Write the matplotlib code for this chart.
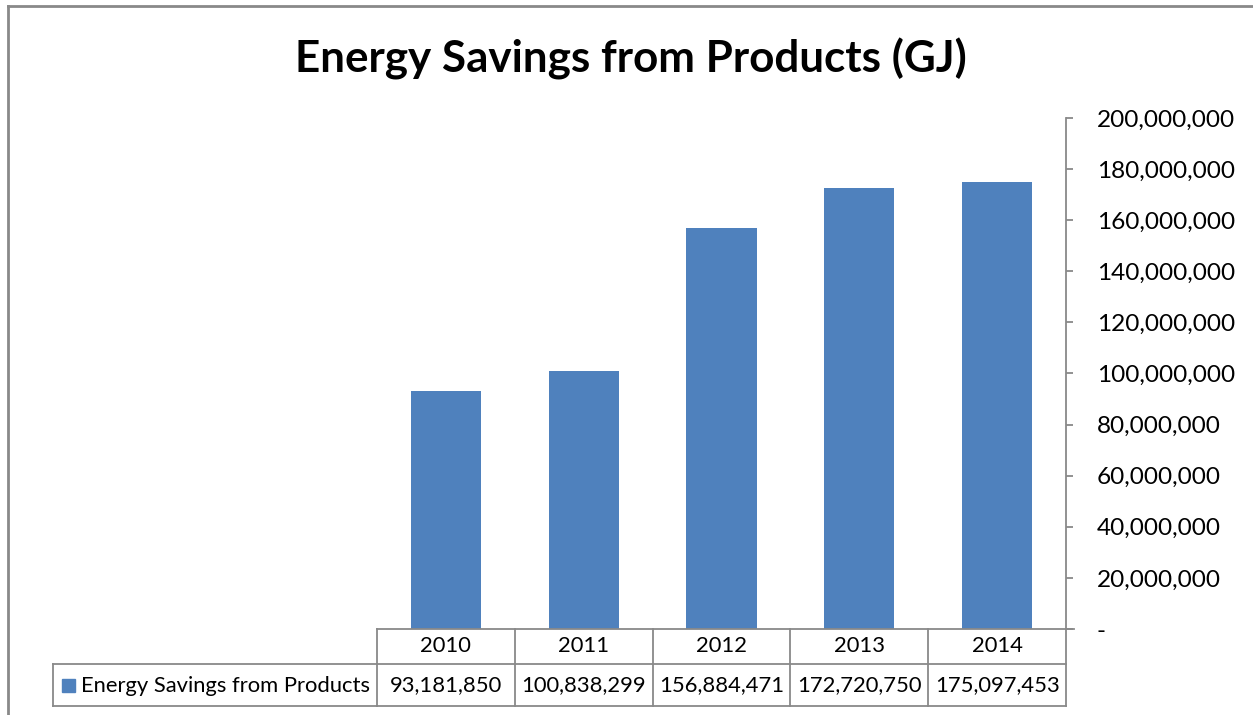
import numpy as np
import matplotlib.pyplot as plt
from matplotlib.ticker import FuncFormatter
from matplotlib.transforms import blended_transform_factory
from matplotlib.patches import Rectangle
from matplotlib.lines import Line2D

years = ['2010', '2011', '2012', '2013', '2014']
savings = [93181850, 100838299, 156884471, 172720750, 175097453]
series_name = 'Energy Savings from Products'
title = 'Energy Savings from Products (GJ)'

plt.rcParams['font.family'] = ['Lato', 'DejaVu Sans']
W, H = 1253, 715
fig = plt.figure(figsize=(W / 100, H / 100), dpi=100)

def fx(px):
	return px / W

def fy(py):
	return 1 - py / H

bar_col = '#4F81BD'
grey = '#898989'

# plot area
ax = fig.add_axes([fx(377), fy(629), fx(1066) - fx(377), fy(118) - fy(629)])
x = np.arange(len(years))
ax.bar(x, savings, width=0.51, color=bar_col)
ax.set_xlim(-0.5, len(years) - 0.5)
ax.set_ylim(0, 200000000)
ax.set_yticks(np.arange(0, 200000001, 20000000))
ax.yaxis.set_major_formatter(FuncFormatter(lambda v, p: '-' if v == 0 else f'{v:,.0f}'))
ax.yaxis.tick_right()
ax.tick_params(axis='y', direction='out', length=5, width=1.3, color=grey, labelsize=17.6, pad=17)
ax.set_xticks([])
for s in ['top', 'left', 'bottom']:
	ax.spines[s].set_visible(False)
ax.spines['right'].set_color(grey)
ax.spines['right'].set_linewidth(1.3)
for lbl in ax.get_yticklabels():
	lbl.set_horizontalalignment('left')

fig.text(fx(631), fy(59), title, ha='center', va='center', fontsize=31.7, fontweight='bold')

# data table under the bars
tr = blended_transform_factory(ax.transData, ax.transAxes)
ah = 629 - 118
r1 = -35 / ah
r2 = -77 / ah
lw = 1.3
for i, (yr, val) in enumerate(zip(years, savings)):
	ax.text(i, r1 / 2, yr, transform=tr, ha='center', va='center', fontsize=15.8, clip_on=False)
	ax.text(i, (r1 + r2) / 2, f'{val:,}', transform=tr, ha='center', va='center', fontsize=15.8, clip_on=False)
for xv in np.arange(-0.5, len(years), 1.0):
	ax.add_line(Line2D([xv, xv], [0, r2], transform=tr, color=grey, lw=lw, clip_on=False))
ax.add_line(Line2D([-0.5, len(years) - 0.5 + 0.06], [0, 0], transform=tr, color=grey, lw=lw, clip_on=False))
ax.add_line(Line2D([-0.5, len(years) - 0.5], [r1, r1], transform=tr, color=grey, lw=lw, clip_on=False))
ax.add_line(Line2D([-0.5, len(years) - 0.5], [r2, r2], transform=tr, color=grey, lw=lw, clip_on=False))

# row header cell with legend key
fig.add_artist(Line2D([fx(53), fx(377)], [fy(664), fy(664)], color=grey, lw=lw))
fig.add_artist(Line2D([fx(53), fx(377)], [fy(706), fy(706)], color=grey, lw=lw))
fig.add_artist(Line2D([fx(53), fx(53)], [fy(664), fy(706)], color=grey, lw=lw))
fig.add_artist(Rectangle((fx(62), fy(692)), fx(13), fy(679) - fy(692), color=bar_col))
fig.text(fx(81), fy(686), series_name, ha='left', va='center', fontsize=15.8)

# chart border
fig.add_artist(Line2D([fx(8), fx(8)], [fy(6), 0], color=grey, lw=2))
fig.add_artist(Line2D([fx(8), 1], [fy(6), fy(6)], color=grey, lw=2))

fig.savefig('out.png', dpi=100)
